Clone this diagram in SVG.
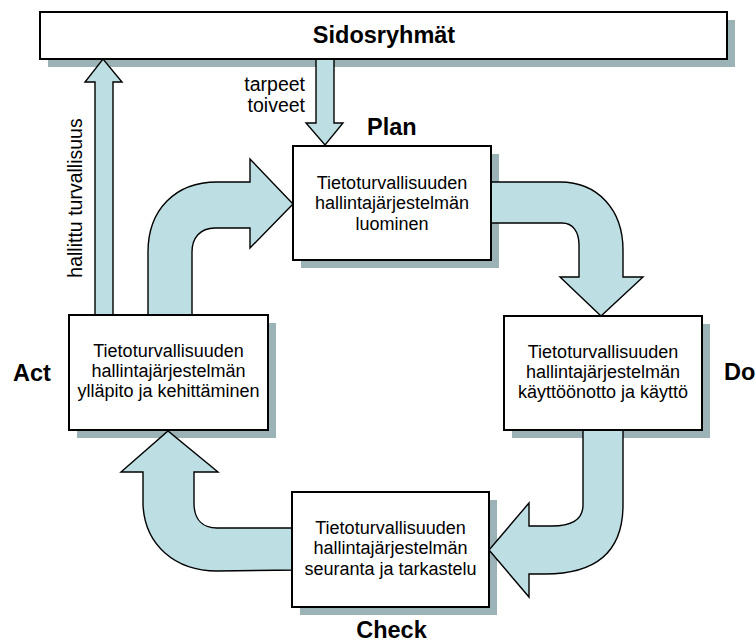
<svg xmlns="http://www.w3.org/2000/svg" width="756" height="644" viewBox="0 0 756 644">
<style>
.box{fill:#ffffff;stroke:#000;stroke-width:2}
.shadow{fill:#9bb3b6}
.arrow{fill:#bddfe3;stroke:#000;stroke-width:1.4;stroke-linejoin:miter}
.t{font-family:"Liberation Sans",Arial,sans-serif;font-size:18px;fill:#000}
.b{font-family:"Liberation Sans",Arial,sans-serif;font-size:23.5px;font-weight:bold;fill:#000}
.s{font-family:"Liberation Sans",Arial,sans-serif;font-size:19.5px;fill:#000}
</style>
<rect width="756" height="644" fill="#ffffff"/>
<g id="shadows">
<rect class="shadow" x="48" y="20" width="687" height="47"/>
<rect class="shadow" x="301" y="154" width="198" height="114"/>
<rect class="shadow" x="512" y="324" width="198" height="114"/>
<rect class="shadow" x="77" y="323" width="199" height="115"/>
<rect class="shadow" x="300" y="500" width="197" height="115"/>
</g>
<g id="connectors">
<path class="arrow" d="M95,322 L95,82 L85,82 L103,59 L122,82 L113,82 L113,322 Z"/>
<path class="arrow" d="M316,52 L316,123 L306,123 L325,145 L343,123 L334,123 L334,52 Z"/>
<path class="arrow" d="M148,322 L148,252 C148,210 175,182 217,182 L250,182 L250,159 L293,204 L250,248 L250,228 L215,228 C200,228 192,238 192,252 L192,322 Z"/>
<path class="arrow" d="M484,182 L560,182 C598,182 623,210 623,250 L623,277 L643,277 L601,316 L560,277 L579,277 L579,245 C579,232 573,223 562,223 L484,223 Z"/>
<path class="arrow" d="M583,424 L583,505 C583,520 571,526 552,526 L529,526 L529,503 L489,550 L529,597 L529,574 L545,574 C600,574 623,548 623,505 L623,424 Z"/>
<path class="arrow" d="M298,528 L217,528 C203,528 194,520 194,503 L194,472 L218,472 L168,431 L121,472 L143,472 L143,505 C145,545 175,571 217,571 L298,570 Z"/>
</g>
<g id="sidosryhmat">
<rect class="box" x="40" y="12" width="687" height="47"/>
<text class="b" x="384" y="43" text-anchor="middle">Sidosryhmät</text>
</g>
<g id="plan">
<rect class="box" x="293" y="146" width="198" height="114"/>
<text class="t" x="392" y="188.5" text-anchor="middle">Tietoturvallisuuden</text>
<text class="t" x="392" y="209" text-anchor="middle">hallintajärjestelmän</text>
<text class="t" x="392" y="230" text-anchor="middle">luominen</text>
</g>
<g id="do">
<rect class="box" x="504" y="316" width="198" height="114"/>
<text class="t" x="603" y="357.5" text-anchor="middle">Tietoturvallisuuden</text>
<text class="t" x="603" y="377.5" text-anchor="middle">hallintajärjestelmän</text>
<text class="t" x="603" y="398" text-anchor="middle">käyttöönotto ja käyttö</text>
</g>
<g id="act">
<rect class="box" x="69" y="315" width="199" height="115"/>
<text class="t" x="168.5" y="357" text-anchor="middle">Tietoturvallisuuden</text>
<text class="t" x="168.5" y="377" text-anchor="middle">hallintajärjestelmän</text>
<text class="t" x="168.5" y="397" text-anchor="middle">ylläpito ja kehittäminen</text>
</g>
<g id="check">
<rect class="box" x="292" y="492" width="197" height="115"/>
<text class="t" x="390.5" y="533.5" text-anchor="middle">Tietoturvallisuuden</text>
<text class="t" x="390.5" y="554" text-anchor="middle">hallintajärjestelmän</text>
<text class="t" x="390.5" y="575" text-anchor="middle">seuranta ja tarkastelu</text>
</g>
<g id="labels">
<text class="s" x="305" y="91" text-anchor="end">tarpeet</text>
<text class="s" x="305" y="112" text-anchor="end">toiveet</text>
<text class="s" transform="translate(82,198) rotate(-90)" text-anchor="middle">hallittu turvallisuus</text>
<text class="b" x="367" y="135">Plan</text>
<text class="b" x="13" y="381">Act</text>
<text class="b" x="724" y="380">Do</text>
<text class="b" x="391.5" y="638" text-anchor="middle">Check</text>
</g>
</svg>
